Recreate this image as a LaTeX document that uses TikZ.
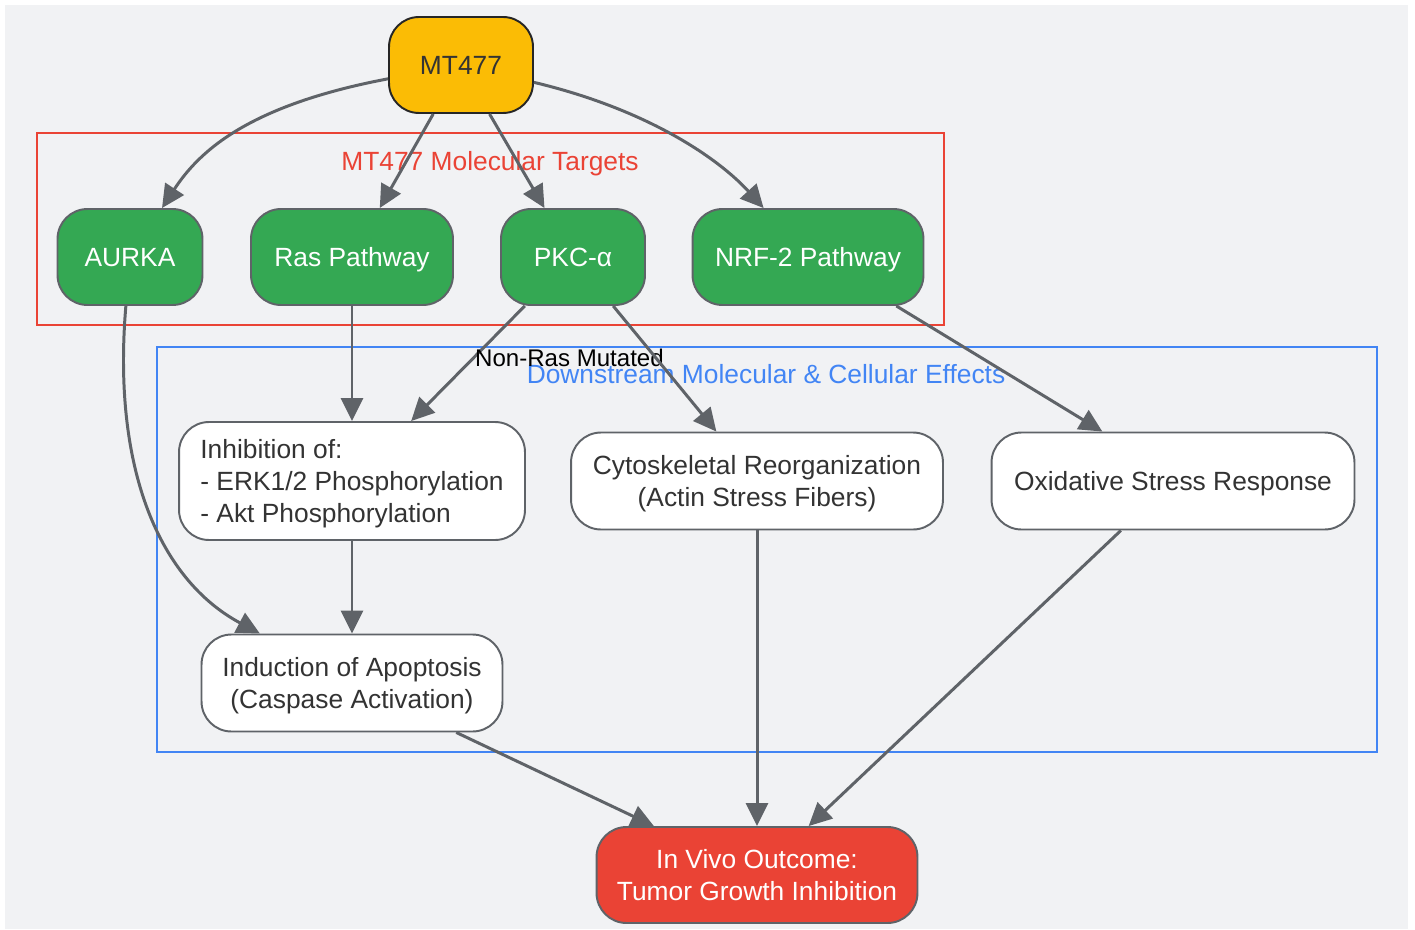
\documentclass[tikz,border=0pt]{standalone}
\usepackage{fontspec}
\setmainfont{Liberation Sans}
\usetikzlibrary{arrows.meta}

\definecolor{bggray}{HTML}{F1F2F4}
\definecolor{edgegray}{HTML}{5F6368}
\definecolor{drugyellow}{HTML}{FBBC05}
\definecolor{targetgreen}{HTML}{34A853}
\definecolor{outred}{HTML}{EA4335}
\definecolor{effblue}{HTML}{4285F4}
\definecolor{textdark}{HTML}{333333}

\begin{document}
\begin{tikzpicture}[x=0.02cm, y=-0.02cm,
    every node/.style={font=\fontsize{15}{18.2}\selectfont, text depth=0pt},
    box/.style={draw=edgegray, line width=1.1pt, rounded corners=0.6cm,
        inner sep=0pt},
    drug/.style={box, draw=black!85, fill=drugyellow, text=textdark,
        minimum width=2.88cm, minimum height=1.92cm},
    target/.style={box, fill=targetgreen, text=white,
        minimum height=1.92cm},
    effect/.style={box, fill=white, text=textdark,
        minimum height=1.94cm, align=center},
    outcome/.style={box, fill=outred, text=white,
        minimum width=6.42cm, minimum height=1.92cm, align=center},
    cluster/.style={line width=1.1pt},
    link/.style={draw=edgegray, line width=1.7pt,
        -{Triangle[length=0.46cm, width=0.44cm]}}
]
\useasboundingbox (0,0) rectangle (1415,929);
\fill[bggray] (5,5) rectangle (1408,929);

% subgraphs
\draw[cluster, draw=outred] (37,133) rectangle (944,325);
\node[text=outred] (targetslabel) at (490,161) {MT477 Molecular Targets};
\draw[cluster, draw=effblue] (157,347) rectangle (1377,752);
\node[text=effblue] (effectslabel) at (766,374)
    {Downstream Molecular \& Cellular Effects};

% nodes
\node[drug] (mt) at (461,65) {MT477};
\node[target, minimum width=2.9cm] (aurka) at (130,257) {AURKA};
\node[target, minimum width=4.04cm] (ras) at (352,257) {Ras Pathway};
\node[target, minimum width=2.88cm] (pkc) at (573,257) {PKC-α};
\node[target, minimum width=4.62cm] (nrf) at (808,257) {NRF-2 Pathway};
\node[effect, minimum width=6.92cm, minimum height=2.36cm, align=left]
    (inhib) at (352,481)
    {Inhibition of:\\- ERK1/2 Phosphorylation\\- Akt Phosphorylation};
\node[effect, minimum width=7.44cm] (cyto) at (757,481)
    {Cytoskeletal Reorganization\\(Actin Stress Fibers)};
\node[effect, minimum width=7.26cm] (oxid) at (1173,481)
    {Oxidative Stress Response};
\node[effect, minimum width=6.02cm] (apop) at (352,683)
    {Induction of Apoptosis\\(Caspase Activation)};
\node[outcome] (outc) at (757,875)
    {In Vivo Outcome:\\Tumor Growth Inhibition};

% connectors
\draw[link] (mt) .. controls (250,105) and (200,150) .. (aurka);
\draw[link] (mt) -- (ras);
\draw[link] (mt) -- (pkc);
\draw[link] (mt) .. controls (650,110) and (720,160) .. (nrf);
\draw[link] (ras) -- (inhib);
\draw[link] (pkc) -- (inhib)
    node[pos=0.45, anchor=west, inner sep=0pt, text=black,
        font=\fontsize{13.7}{16}\selectfont] (nonras) {Non-Ras Mutated};
\draw[link] (pkc) -- (cyto);
\draw[link] (nrf.-29) -- (oxid.145);
\draw[link] (aurka) .. controls (112,470) and (160,580) .. (apop);
\draw[link] (inhib) -- (apop);
\draw[link] (apop) -- (outc);
\draw[link] (cyto) -- (outc);
\draw[link] (oxid) -- (outc);
\end{tikzpicture}
\end{document}
